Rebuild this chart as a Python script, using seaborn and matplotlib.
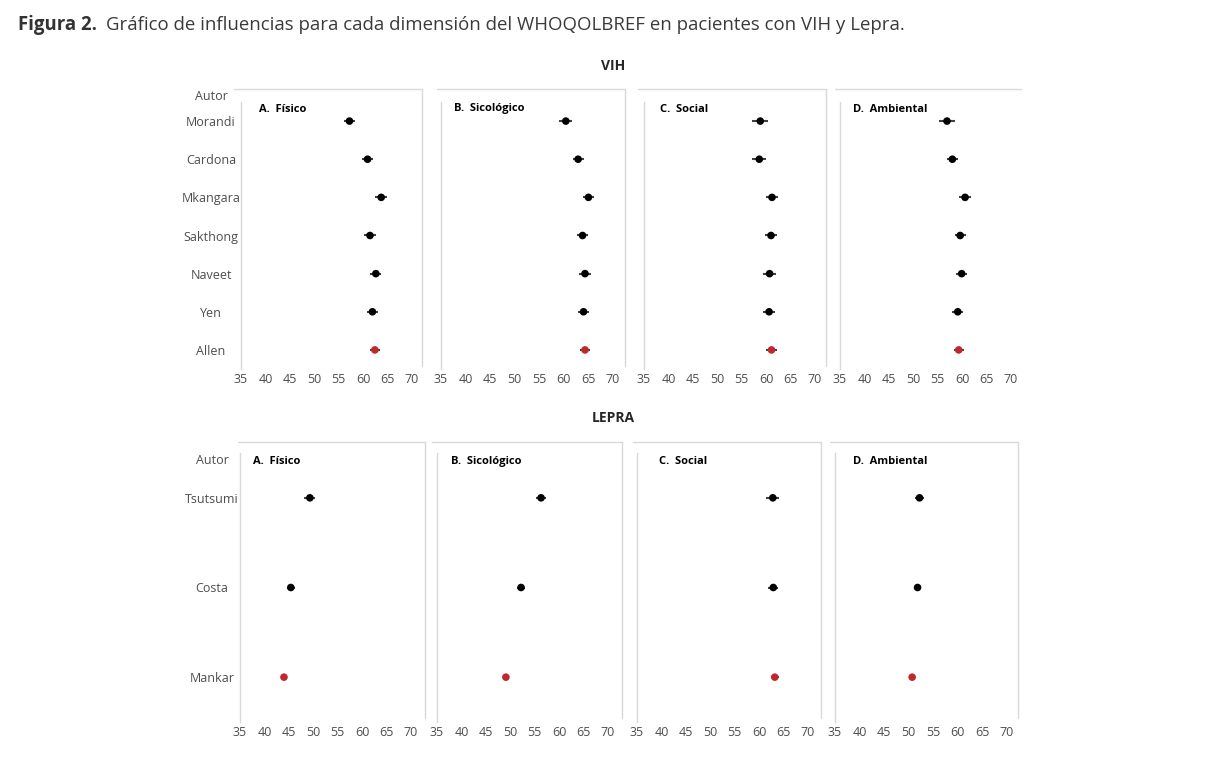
import matplotlib
matplotlib.use("Agg")
import matplotlib.pyplot as plt
from matplotlib.lines import Line2D
import seaborn as sns
import pandas as pd

sns.set_style("white")
plt.rcParams['font.family'] = ['Open Sans', 'DejaVu Sans']

# ---------------- data ----------------
vih_autores = ["Morandi", "Cardona", "Mkangara", "Sakthong", "Naveet", "Yen", "Allen"]
lepra_autores = ["Tsutsumi", "Costa", "Mankar"]
dimensiones = ["A.  Físico", "B.  Sicológico", "C.  Social", "D.  Ambiental"]

vih_fisico = [57.2, 60.9, 63.7, 61.4, 62.6, 61.9, 62.4]
vih_fisico_err = [1.2, 1.1, 1.2, 1.15, 1.1, 1.15, 1.05]
vih_sicologico = [60.4, 62.9, 65.0, 63.8, 64.3, 64.0, 64.3]
vih_sicologico_err = [1.35, 1.1, 1.2, 1.2, 1.2, 1.2, 1.1]
vih_social = [58.8, 58.6, 61.2, 61.0, 60.7, 60.6, 61.1]
vih_social_err = [1.6, 1.4, 1.3, 1.25, 1.3, 1.3, 1.15]
vih_ambiental = [56.9, 58.0, 60.6, 59.6, 59.9, 59.1, 59.3]
vih_ambiental_err = [1.6, 1.1, 1.3, 1.1, 1.15, 1.15, 1.0]

lepra_fisico = [49.3, 45.4, 44.0]
lepra_fisico_err = [1.1, 0.8, 0.55]
lepra_sicologico = [56.3, 52.2, 49.1]
lepra_sicologico_err = [1.1, 0.8, 0.6]
lepra_social = [62.8, 62.9, 63.2]
lepra_social_err = [1.35, 1.05, 0.8]
lepra_ambiental = [52.2, 51.8, 50.7]
lepra_ambiental_err = [0.85, 0.7, 0.5]

x_ticks = [35, 40, 45, 50, 55, 60, 65, 70]

# ---------------- layout (pixels) ----------------
W, H = 1207, 774
fig = plt.figure(figsize=(W / 100, H / 100), dpi=100)


def rect(x0, x1, y0, y1):
    return [x0 / W, 1 - y1 / H, (x1 - x0) / W, (y1 - y0) / H]


def fline(xs, ys, color="#d9d9d9", lw=1.0):
    fig.add_artist(Line2D([x / W for x in xs], [1 - y / H for y in ys],
                          color=color, lw=lw, transform=fig.transFigure))


BLACK = "#000000"
RED = "#c0282d"
ERR = "#404040"
TICK = "#4d4d4d"

# title
t1 = fig.text(18 / W, 1 - 25 / H, "Figura 2.", fontsize=13.4, fontweight="bold",
              color="#333333", va="center", ha="left")
fig.canvas.draw()
bb = t1.get_window_extent()
fig.text((bb.x1 + 9) / W, 1 - 25 / H,
         "Gráfico de influencias para cada dimensión del WHOQOLBREF en pacientes con VIH y Lepra.",
         fontsize=13.4, color="#3a3a3a", va="center", ha="left")

fig.text(613 / W, 1 - 66 / H, "VIH", fontsize=10, fontweight="bold", color="#262626",
         ha="center", va="center")
fig.text(613 / W, 1 - 418 / H, "LEPRA", fontsize=10, fontweight="bold", color="#262626",
         ha="center", va="center")

top_vals = [vih_fisico, vih_sicologico, vih_social, vih_ambiental]
top_errs = [vih_fisico_err, vih_sicologico_err, vih_social_err, vih_ambiental_err]
bot_vals = [lepra_fisico, lepra_sicologico, lepra_social, lepra_ambiental]
bot_errs = [lepra_fisico_err, lepra_sicologico_err, lepra_social_err, lepra_ambiental_err]

# axes positions: (axis_left, axis_right), border (left, right), title offset
top_axes_x = [(241, 412), (441, 613), (644, 815), (840, 1011)]
top_border = [(234, 422), (437, 625), (638, 826), (835, 1021)]
top_title_off = [18, 13, 16, 13]
bot_axes_x = [(240, 411), (437, 608), (637, 808), (835, 1007)]
bot_border = [(238, 425), (432, 622), (633, 821), (830, 1018)]
bot_title_off = [13, 14, 22, 18]


def draw_row(autores, vals_list, errs_list, axes_x, borders, title_offs,
             y0, y1, border_top, border_bottom, title_y, autor_x, autor_y,
             right_border=(True, True, True, True)):
    n = len(autores)
    for k in range(4):
        xa, xb = axes_x[k]
        ax = fig.add_axes(rect(xa, xb, y0, y1))
        df = pd.DataFrame({
            "autor": autores,
            "valor": vals_list[k],
            "tipo": ["estudio"] * (n - 1) + ["global"],
        })
        ax.errorbar(df["valor"], range(n), xerr=errs_list[k], fmt="none",
                    ecolor=ERR, elinewidth=1.5, capsize=0, zorder=2)
        sns.scatterplot(data=df, x="valor", y="autor", hue="tipo",
                        palette={"estudio": BLACK, "global": RED},
                        s=30, edgecolor="none", legend=False, ax=ax, zorder=3)
        ax.set_xlim(35, 70)
        ax.set_ylim(n - 0.5, -0.5)
        ax.set_xticks(x_ticks)
        ax.set_xlabel("")
        ax.set_ylabel("")
        ax.patch.set_alpha(0)
        for s in ["top", "right", "bottom"]:
            ax.spines[s].set_visible(False)
        ax.spines["left"].set_color("#d9d9d9")
        ax.spines["left"].set_linewidth(1.0)
        ax.tick_params(axis="x", length=0, labelsize=9, labelcolor=TICK, pad=3)
        if k == 0:
            pad_px = xa - autor_x
            ax.tick_params(axis="y", length=0, labelsize=9, labelcolor=TICK,
                           pad=pad_px * 0.72)
            for lab in ax.get_yticklabels():
                lab.set_horizontalalignment("center")
        else:
            ax.tick_params(axis="y", length=0, labelleft=False)
        # panel title
        fig.text((xa + title_offs[k]) / W, 1 - title_y / H, dimensiones[k],
                 fontsize=8, fontweight="bold", color="#000000", ha="left", va="center")
        # chart-area border (top & right)
        bl, br = borders[k]
        fline([bl, br], [border_top, border_top])
        if right_border[k]:
            fline([br, br], [border_top, border_bottom])
    fig.text(autor_x / W, 1 - autor_y / H, "Autor", fontsize=9, color=TICK,
             ha="center", va="center")


draw_row(vih_autores, top_vals, top_errs, top_axes_x, top_border, top_title_off,
         102, 369, 89, 366, 109, 211, 97, right_border=(True, True, True, False))
draw_row(lepra_autores, bot_vals, bot_errs, bot_axes_x, bot_border, bot_title_off,
         453, 722, 442, 718, 462, 212, 461)

fig.savefig("out.png", dpi=100, facecolor="white")
